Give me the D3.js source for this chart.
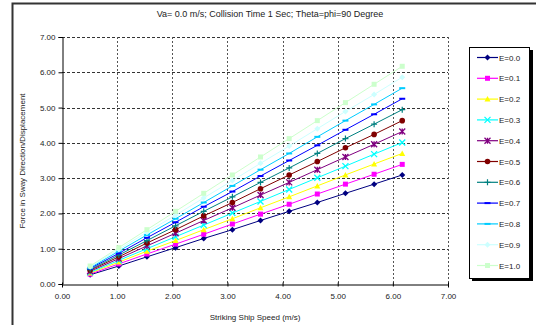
<!DOCTYPE html>
<html>
<head>
<meta charset="utf-8">
<script src="https://cdn.jsdelivr.net/npm/d3@7"></script>
<style>
  body { margin: 0; background: #fff; }
  svg { display: block; font-family: "Liberation Sans", Arial, sans-serif; }
</style>
</head>
<body>
<svg width="536" height="325"></svg>
<script>
// striking ship speed (m/s), 1..12 knots
var speeds = [0.51, 1.03, 1.54, 2.06, 2.57, 3.09, 3.60, 4.12, 4.63, 5.14, 5.66, 6.17];
var seriesNames = ["E=0.0", "E=0.1", "E=0.2", "E=0.3", "E=0.4", "E=0.5", "E=0.6", "E=0.7", "E=0.8", "E=0.9", "E=1.0"];
var e00 = [0.26, 0.51, 0.77, 1.03, 1.29, 1.54, 1.80, 2.06, 2.31, 2.57, 2.83, 3.09];
var e01 = [0.28, 0.57, 0.85, 1.13, 1.41, 1.70, 1.98, 2.26, 2.55, 2.83, 3.11, 3.39];
var e02 = [0.31, 0.62, 0.93, 1.23, 1.54, 1.85, 2.16, 2.47, 2.78, 3.09, 3.40, 3.70];
var e03 = [0.33, 0.67, 1.00, 1.34, 1.67, 2.01, 2.34, 2.68, 3.01, 3.34, 3.68, 4.01];
var e04 = [0.36, 0.72, 1.08, 1.44, 1.80, 2.16, 2.52, 2.88, 3.24, 3.60, 3.96, 4.32];
var e05 = [0.39, 0.77, 1.16, 1.54, 1.93, 2.31, 2.70, 3.09, 3.47, 3.86, 4.24, 4.63];
var e06 = [0.41, 0.82, 1.23, 1.65, 2.06, 2.47, 2.88, 3.29, 3.70, 4.12, 4.53, 4.94];
var e07 = [0.44, 0.87, 1.31, 1.75, 2.19, 2.62, 3.06, 3.50, 3.93, 4.37, 4.81, 5.25];
var e08 = [0.46, 0.93, 1.39, 1.85, 2.31, 2.78, 3.24, 3.70, 4.17, 4.63, 5.09, 5.55];
var e09 = [0.49, 0.98, 1.47, 1.95, 2.44, 2.93, 3.42, 3.91, 4.40, 4.89, 5.37, 5.86];
var e10 = [0.51, 1.03, 1.54, 2.06, 2.57, 3.09, 3.60, 4.12, 4.63, 5.14, 5.66, 6.17];
var xTicks = [0, 1, 2, 3, 4, 5, 6, 7];
var yTicks = [0, 1, 2, 3, 4, 5, 6, 7];

var allValues = [e00, e01, e02, e03, e04, e05, e06, e07, e08, e09, e10];
var colors = ["#000080", "#FF00FF", "#FFFF00", "#00FFFF", "#800080", "#800000",
              "#008080", "#0000FF", "#00CCFF", "#CCFFFF", "#CCFFCC"];
var shapes = ["diamond", "square", "triangle", "x", "star", "circle",
              "plus", "dash", "dash", "diamond", "square"];

var svg = d3.select("svg");

// outer chart border
svg.append("rect")
  .attr("x", 12.5).attr("y", 3.5)
  .attr("width", 540).attr("height", 340)
  .attr("fill", "#fff")
  .attr("stroke", "#333")
  .attr("stroke-width", 2);

// plot area
var plotL = 62, plotR = 448, plotT = 37, plotB = 284;
var x = d3.scaleLinear().domain([0, 7]).range([plotL, plotR]);
var y = d3.scaleLinear().domain([0, 7]).range([plotB, plotT]);

// title
svg.append("text")
  .attr("x", 270).attr("y", 17)
  .attr("text-anchor", "middle")
  .style("font-size", "9px")
  .attr("fill", "#222")
  .text("Va= 0.0 m/s; Collision Time 1 Sec; Theta=phi=90 Degree");

// gridlines
var grid = svg.append("g");
grid.selectAll(".hg").data(yTicks.slice(1)).enter().append("line")
  .attr("x1", plotL).attr("x2", plotR)
  .attr("y1", function(d) { return Math.round(y(d)) + 0.5; })
  .attr("y2", function(d) { return Math.round(y(d)) + 0.5; })
  .attr("stroke", "#333").attr("stroke-dasharray", "3,2");
grid.selectAll(".vg").data(xTicks.slice(1)).enter().append("line")
  .attr("y1", plotT).attr("y2", plotB)
  .attr("x1", function(d) { return Math.round(x(d)) + 0.5; })
  .attr("x2", function(d) { return Math.round(x(d)) + 0.5; })
  .attr("stroke", "#555").attr("stroke-dasharray", "2,2");

// axes
var xAxis = svg.append("g")
  .attr("transform", "translate(0," + (plotB + 0.5) + ")")
  .call(d3.axisBottom(x).tickValues(xTicks).tickFormat(d3.format(".2f")).tickSize(3).tickPadding(6));
var yAxis = svg.append("g")
  .attr("transform", "translate(" + (plotL + 0.5) + ",0)")
  .call(d3.axisLeft(y).tickValues(yTicks).tickFormat(d3.format(".2f")).tickSize(4).tickPadding(3));
[xAxis, yAxis].forEach(function(a) {
  a.select(".domain").attr("stroke", "#000");
  a.selectAll(".tick line").attr("stroke", "#000");
  a.selectAll("text").style("font-size", "8px").attr("fill", "#222")
    .style("font-family", "'Liberation Sans', Arial, sans-serif");
});
xAxis.selectAll(".tick line").attr("y1", -2).attr("y2", 2);

// axis titles
svg.append("text")
  .attr("x", 255).attr("y", 320)
  .attr("text-anchor", "middle")
  .style("font-size", "8px").attr("fill", "#222")
  .text("Striking Ship Speed (m/s)");
svg.append("text")
  .attr("transform", "translate(25,161) rotate(-90)")
  .attr("text-anchor", "middle")
  .style("font-size", "8px").attr("fill", "#222")
  .text("Force in Sway Direction/Displacement");

function drawMarker(g, shape, color) {
  if (shape == "diamond") {
    g.append("path").attr("d", "M0,-3L3,0L0,3L-3,0Z").attr("fill", color);
  } else if (shape == "square") {
    g.append("rect").attr("x", -2.5).attr("y", -2.5).attr("width", 5).attr("height", 5).attr("fill", color);
  } else if (shape == "triangle") {
    g.append("path").attr("d", "M0,-3L3,2.5L-3,2.5Z").attr("fill", color);
  } else if (shape == "x") {
    g.append("path").attr("d", "M-3,-3L3,3M-3,3L3,-3").attr("stroke", color).attr("stroke-width", 1.3);
  } else if (shape == "star") {
    g.append("path").attr("d", "M-3,-3L3,3M-3,3L3,-3M0,-3L0,3").attr("stroke", color).attr("stroke-width", 1.3);
  } else if (shape == "circle") {
    g.append("circle").attr("r", 2.8).attr("fill", color);
  } else if (shape == "plus") {
    g.append("path").attr("d", "M-3,0L3,0M0,-3L0,3").attr("stroke", color).attr("stroke-width", 1.2);
  } else if (shape == "dash") {
    g.append("rect").attr("x", -3).attr("y", -1).attr("width", 6).attr("height", 2).attr("fill", color);
  }
}

var line = d3.line()
  .x(function(d) { return x(d[0]); })
  .y(function(d) { return y(d[1]); });

allValues.forEach(function(vals, i) {
  var pts = speeds.map(function(s, j) { return [s, vals[j]]; });
  svg.append("path")
    .datum(pts)
    .attr("fill", "none")
    .attr("stroke", colors[i])
    .attr("stroke-width", 1)
    .attr("d", line);
  pts.forEach(function(p) {
    var g = svg.append("g").attr("transform", "translate(" + x(p[0]) + "," + y(p[1]) + ")");
    drawMarker(g, shapes[i], colors[i]);
  });
});

// legend
var lg = svg.append("g");
lg.append("rect").attr("x", 472).attr("y", 50).attr("width", 61).attr("height", 231).attr("fill", "#000");
lg.append("rect").attr("x", 469.5).attr("y", 47.5).attr("width", 60).attr("height", 231)
  .attr("fill", "#fff").attr("stroke", "#000").attr("stroke-width", 1);
seriesNames.forEach(function(name, i) {
  var yy = 57.5 + i * 20.8;
  var g = lg.append("g").attr("transform", "translate(0," + yy + ")");
  g.append("line").attr("x1", 477).attr("x2", 498).attr("y1", 0).attr("y2", 0)
    .attr("stroke", colors[i]).attr("stroke-width", 1.2);
  var m = g.append("g").attr("transform", "translate(487.5,0)");
  drawMarker(m, shapes[i], colors[i]);
  g.append("text").attr("x", 499).attr("y", 3)
    .style("font-size", "8px").attr("fill", "#222")
    .text(name);
});
</script>
</body>
</html>
